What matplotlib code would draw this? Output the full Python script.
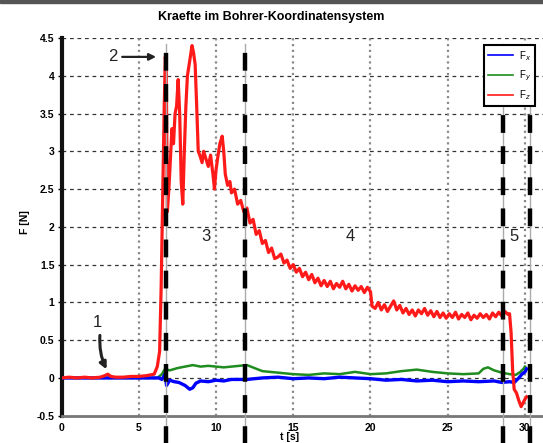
import matplotlib
matplotlib.use("Agg")
import matplotlib.pyplot as plt
from matplotlib.patches import Rectangle
from matplotlib.lines import Line2D

plt.rcParams['font.family'] = ['Liberation Sans', 'DejaVu Sans']

# ---- data ----
t_z = [0.0, 0.5, 1.0, 1.5, 2.0, 2.5, 2.8, 3.0, 3.2, 3.5, 4.0, 4.5, 5.0, 5.5, 6.0, 6.2,
       6.35, 6.45, 6.55, 6.65, 6.72, 6.78, 6.85, 6.95, 7.05, 7.15, 7.25, 7.35, 7.45, 7.55,
       7.65, 7.75, 7.85, 7.95, 8.05, 8.15, 8.3, 8.45, 8.55, 8.65, 8.75, 8.85, 8.95, 9.1,
       9.2, 9.35, 9.5, 9.65, 9.8, 9.9, 10.0, 10.1, 10.25, 10.4, 10.5, 10.6, 10.75, 10.9,
       11.0, 11.2, 11.4, 11.6, 11.8, 12.0, 12.2, 12.4, 12.6, 12.8, 13.0, 13.2, 13.4, 13.6,
       13.8, 14.0, 14.2, 14.4, 14.6, 14.8, 15.0, 15.2, 15.4, 15.6, 15.8, 16.0, 16.2, 16.4,
       16.6, 16.8, 17.0, 17.2, 17.4, 17.6, 17.8, 18.0, 18.2, 18.4, 18.6, 18.8, 19.0, 19.2,
       19.4, 19.6, 19.8, 20.0, 20.1, 20.3, 20.5, 20.7, 20.9, 21.1, 21.3, 21.5, 21.7, 21.9,
       22.1, 22.3, 22.5, 22.7, 22.9, 23.1, 23.3, 23.5, 23.7, 23.9, 24.1, 24.3, 24.5, 24.7,
       24.9, 25.1, 25.3, 25.5, 25.7, 25.9, 26.1, 26.3, 26.5, 26.7, 26.9, 27.1, 27.3, 27.5,
       27.7, 27.9, 28.1, 28.3, 28.5, 28.7, 28.9, 29.0, 29.1, 29.2, 29.3, 29.45, 29.6, 29.75,
       29.9, 30.0, 30.1]
f_z = [0.00, 0.01, 0.00, 0.01, 0.00, 0.01, 0.03, 0.05, 0.02, 0.01, 0.01, 0.02, 0.02, 0.03, 0.05, 0.15,
       0.35, 1.20, 2.40, 3.60, 4.25, 4.10, 2.20, 2.50, 2.90, 3.30, 3.10, 3.50, 3.60, 3.95,
       3.50, 2.60, 2.30, 3.00, 3.60, 4.00, 4.20, 4.40, 4.30, 4.15, 3.60, 3.00, 2.95, 2.85,
       3.00, 2.90, 2.80, 2.95, 2.70, 2.50, 2.75, 2.90, 3.10, 3.20, 3.00, 2.70, 2.55, 2.60,
       2.45, 2.50, 2.30, 2.35, 2.20, 2.25, 2.05, 2.10, 1.90, 1.95, 1.78, 1.82, 1.66, 1.72,
       1.58, 1.60, 1.64, 1.52, 1.56, 1.45, 1.50, 1.40, 1.45, 1.34, 1.40, 1.30, 1.37, 1.26,
       1.32, 1.22, 1.29, 1.21, 1.28, 1.18, 1.25, 1.20, 1.28, 1.18, 1.24, 1.15, 1.22, 1.16,
       1.21, 1.13, 1.20, 1.14, 0.95, 0.92, 1.00, 0.90, 0.97, 0.88, 0.95, 1.02, 0.90, 0.96,
       0.86, 0.92, 0.84, 0.90, 0.82, 0.90, 0.85, 0.92, 0.83, 0.89, 0.81, 0.88, 0.80, 0.86,
       0.79, 0.85, 0.80, 0.87, 0.78, 0.84, 0.80, 0.86, 0.77, 0.83, 0.79, 0.85, 0.80, 0.84,
       0.78, 0.86, 0.81, 0.87, 0.82, 0.88, 0.84, 0.85, 0.60, 0.10, -0.15, -0.20, -0.30, -0.38,
       -0.32, -0.28, -0.25]

t_x = [0.0, 6.3, 6.5, 6.7, 6.8, 7.0, 7.3, 7.6, 8.0, 8.3, 8.5, 8.7, 9.0, 9.5, 10.0, 10.5,
       11.0, 12.0, 13.0, 14.0, 15.0, 16.0, 17.0, 18.0, 19.0, 20.0, 21.0, 22.0, 23.0, 24.0,
       25.0, 26.0, 27.0, 28.0, 28.5, 29.0, 29.3, 29.6, 29.8, 30.0, 30.1]
f_x = [0.00, 0.00, -0.02, 0.05, -0.10, -0.03, -0.05, -0.06, -0.10, -0.15, -0.13, -0.07, -0.04, -0.05, -0.03, -0.04,
       -0.02, -0.02, 0.00, 0.01, -0.01, 0.00, -0.01, 0.01, 0.00, -0.01, -0.03, -0.02, -0.04, -0.03,
       -0.05, -0.04, -0.05, -0.04, -0.06, -0.05, -0.06, 0.00, 0.05, 0.08, 0.12]

t_y = [0.0, 6.2, 6.5, 6.7, 7.0, 7.5, 8.0, 8.5, 9.0, 9.5, 10.0, 10.5, 11.0, 11.5, 12.0, 12.5,
       13.0, 14.0, 15.0, 16.0, 17.0, 18.0, 19.0, 20.0, 21.0, 22.0, 23.0, 24.0, 25.0, 26.0,
       27.0, 27.3, 27.6, 28.0, 28.5, 29.0, 29.4, 29.7, 29.9, 30.0]
f_y = [0.00, 0.00, 0.05, 0.12, 0.10, 0.13, 0.15, 0.17, 0.15, 0.16, 0.15, 0.14, 0.15, 0.16, 0.17, 0.13,
       0.09, 0.07, 0.05, 0.04, 0.06, 0.05, 0.08, 0.05, 0.06, 0.09, 0.11, 0.08, 0.06, 0.05,
       0.06, 0.12, 0.14, 0.10, 0.07, 0.05, 0.04, 0.08, 0.12, 0.15]

phase_lines = [6.76, 11.9, 28.6, 30.3]
phase_labels = ["3", "4", "5"]
phase_label_x = [9.35, 18.7, 29.3]
x_ticks = [0, 5, 10, 15, 20, 25, 30]
y_ticks = [-0.5, 0, 0.5, 1, 1.5, 2, 2.5, 3, 3.5, 4, 4.5]
legend_labels = ["F$_x$", "F$_y$", "F$_z$"]
series_colors = ["#0000ff", "#1e8c1e", "#ff1a1a"]

W, H = 543, 443
fig = plt.figure(figsize=(W / 100, H / 100), dpi=100)
fig.patch.set_facecolor("white")
# dark strip at the very top of the screenshot
fig.add_artist(Rectangle((0, 1 - 3 / H), 1, 3 / H, transform=fig.transFigure,
                         color="#555555", zorder=0))

ax = fig.add_axes([61.5 / W, 1 - 415.7 / H, (W - 61.5) / W, (415.7 - 38) / H])
ax.set_xlim(0, (W - 61.5) / 15.45)
ax.set_ylim(-0.5, 4.5)
ax.set_facecolor("white")

# grid
for yv in y_ticks[1:]:
    ax.axhline(yv, color="#333333", lw=0.9, ls=(0, (3, 3)), zorder=1)
for xv in x_ticks[1:]:
    ax.axvline(xv, color="#8a8a8a", lw=1.6, ls=(0, (1.0, 1.6)), zorder=1)

ax.plot(t_y, f_y, color=series_colors[1], lw=1.8, zorder=3)
ax.plot(t_x, f_x, color=series_colors[0], lw=2.4, zorder=4)
ax.plot(t_z, f_z, color=series_colors[2], lw=2.3, zorder=5)

# phase separators
for xv in phase_lines:
    ax.plot([xv, xv], [-0.87, 4.42], color="#aaaaaa", lw=1.0, clip_on=False, zorder=6)
    ax.plot([xv, xv], [-0.87, 4.42], color="black", lw=3.2, ls=(0, (4, 3)),
            clip_on=False, zorder=7)

for lab, xv in zip(phase_labels, phase_label_x):
    ax.text(xv, 1.87, lab, fontsize=12, ha="center", va="center", color="#222222", zorder=8)

# annotations 1 and 2
ax.text(2.3, 0.73, "1", fontsize=12, ha="center", va="center", color="#222222", zorder=8)
ax.annotate("", xy=(3.0, 0.08), xytext=(2.5, 0.6),
            arrowprops=dict(arrowstyle="-|>", color="#222222", lw=2.2,
                            connectionstyle="arc3,rad=0.15"), zorder=8)
ax.text(3.3, 4.25, "2", fontsize=12, ha="center", va="center", color="#222222", zorder=8)
ax.annotate("", xy=(6.3, 4.25), xytext=(3.75, 4.25),
            arrowprops=dict(arrowstyle="-|>", color="#222222", lw=1.6), zorder=8)

# spines and ticks
for s in ["top", "right"]:
    ax.spines[s].set_visible(False)
ax.spines["left"].set_linewidth(3)
ax.spines["left"].set_color("#111111")
ax.spines["bottom"].set_linewidth(2)
ax.spines["bottom"].set_color("#777777")
ax.set_xticks(x_ticks)
ax.set_yticks(y_ticks)
ax.set_yticklabels([("%g" % v) for v in y_ticks])
ax.tick_params(axis="y", length=3, width=1, direction="out", pad=2)
ax.tick_params(axis="x", length=0, pad=5)
for lbl in ax.get_xticklabels() + ax.get_yticklabels():
    lbl.set_fontsize(7.5)
    lbl.set_fontweight("bold")

handles = [Line2D([], [], color=c, lw=1.2) for c in series_colors]
leg = ax.legend(handles=handles, labels=legend_labels,
                loc="upper right", bbox_to_anchor=(540 / W, 1 - 40 / H),
                bbox_transform=fig.transFigure, fontsize=7, handlelength=2.6,
                frameon=True, fancybox=False, borderpad=0.4, labelspacing=0.6,
                handletextpad=0.6, framealpha=1)
leg.get_frame().set_edgecolor("black")
leg.get_frame().set_linewidth(1.5)
leg.set_zorder(10)

fig.text(0.5, 1 - 17 / H, "Kraefte im Bohrer-Koordinatensystem", ha="center", va="center",
         fontsize=9, fontweight="bold")
fig.text(290 / W, 1 - 437 / H, "t [s]", ha="center", va="center", fontsize=7.5, fontweight="bold")
fig.text(25 / W, 1 - 222 / H, "F [N]", ha="center", va="center", rotation=90,
         fontsize=7.5, fontweight="bold")

fig.savefig("out.png", dpi=100)
